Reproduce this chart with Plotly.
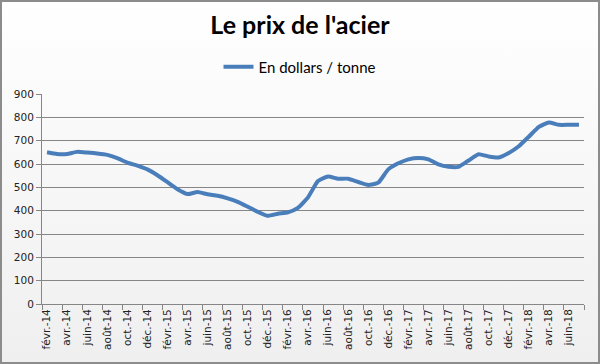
import plotly.graph_objects as go
import urllib.parse

# ---- data ----
mois = ["janv.", "févr.", "mars", "avr.", "mai", "juin", "juil.", "août", "sept.", "oct.", "nov.", "déc."]
categories = []
for k in range(54):
    m = (1 + k) % 12          # start at févr. 2014
    y = 14 + (1 + k) // 12
    categories.append(f"{mois[m]}-{y}")

prix = [650, 643, 643, 652, 649, 645, 639, 625, 606, 593, 577,
        552, 522, 492, 471, 480, 470, 464, 453, 438, 417, 395, 378,
        387, 393, 412, 457, 527, 546, 537, 537, 523, 510, 520, 577,
        603, 620, 626, 620, 598, 588, 588, 615, 642, 632, 628, 647,
        676, 717, 759, 778, 768, 768, 768]

y_ticks = [0, 100, 200, 300, 400, 500, 600, 700, 800, 900]

# ---- layout geometry ----
W, H = 600, 364
ML, MR, MT, MB = 42, 16, 94, 60
PW, PH = W - ML - MR, H - MT - MB

fig = go.Figure()
fig.add_trace(go.Scatter(
    x=categories, y=prix, mode="lines",
    name="En dollars / tonne",
    line=dict(color="#4A7EBB", width=4, shape="spline", smoothing=0.5),
))

# background gradient (white to light gray)
svg = ('<svg xmlns="http://www.w3.org/2000/svg" width="600" height="364" preserveAspectRatio="none">'
       '<defs><linearGradient id="g" x1="0" y1="0" x2="0" y2="1">'
       '<stop offset="0" stop-color="#ffffff"/><stop offset="1" stop-color="#efefef"/>'
       '</linearGradient></defs><rect width="600" height="364" fill="url(#g)"/></svg>')
src = "data:image/svg+xml;charset=utf-8," + urllib.parse.quote(svg)

px0 = -ML / PW
px1 = 1 + MR / PW
py0 = -MB / PH
py1 = 1 + MT / PH

fig.update_layout(
    width=W, height=H,
    margin=dict(l=ML, r=MR, t=MT, b=MB, autoexpand=False),
    paper_bgcolor="white",
    plot_bgcolor="rgba(0,0,0,0)",
    title=dict(text="<b>Le prix de l'acier</b>", x=0.5, xanchor="center",
               xref="container", y=1 - 16 / H, yanchor="top", yref="container",
               font=dict(family="Lato", size=25, color="#000000")),
    showlegend=True,
    legend=dict(orientation="h", x=0.5, xanchor="center", xref="container",
                y=1 - 67 / H, yanchor="middle", yref="container",
                font=dict(family="Lato", size=15, color="#000000"),
                bgcolor="rgba(0,0,0,0)"),
    images=[dict(source=src, xref="paper", yref="paper", x=px0, y=py1,
                 sizex=px1 - px0, sizey=py1 - py0, xanchor="left", yanchor="top",
                 sizing="stretch", layer="below")],
    shapes=[dict(type="rect", xref="paper", yref="paper",
                 x0=px0 + 1 / PW, x1=px1 - 1 / PW, y0=py0 + 1 / PH, y1=py1 - 1 / PH,
                 line=dict(color="#8C8C8C", width=2))],
    xaxis=dict(type="category", range=[-0.5, 53.5], tickmode="linear", tick0=0, dtick=2,
               tickson="boundaries", ticks="outside", ticklen=5, tickcolor="#868686",
               tickangle=-90, showgrid=False, showline=True, linecolor="#868686",
               linewidth=1, automargin=False,
               tickfont=dict(family="DejaVu Sans", size=10.5, color="#222222")),
    yaxis=dict(range=[0, 900], tickvals=y_ticks, ticks="outside", ticklen=5,
               tickcolor="#868686", showgrid=True, gridcolor="#868686", gridwidth=1,
               showline=True, linecolor="#868686", linewidth=1, zeroline=False,
               automargin=False,
               tickfont=dict(family="DejaVu Sans", size=10.5, color="#222222")),
)

fig.write_html("out.html", config={"displayModeBar": False},
               post_script="document.body.style.margin='0';")
